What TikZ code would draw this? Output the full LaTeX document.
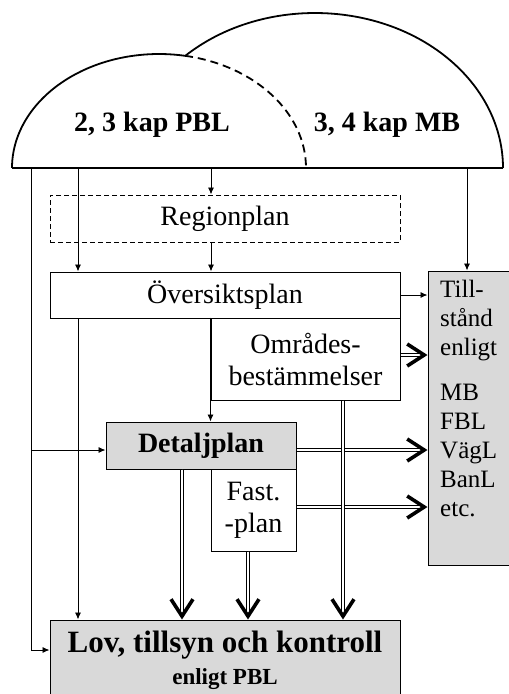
\documentclass[tikz,border=0pt]{standalone}
\usepackage{fontspec}
\setmainfont{Liberation Serif}
\usetikzlibrary{arrows.meta}
\definecolor{boxgray}{gray}{0.85}

\begin{document}
\begin{tikzpicture}[x=1pt, y=1pt,
    box/.style={draw, line width=1pt, inner sep=0pt, align=center,
      font=\fontsize{28}{32}\selectfont},
    graybox/.style={box, fill=boxgray},
    arr/.style={line width=0.9pt, -{Latex[length=7pt,width=6pt]}},
    dbl/.style={preaction={draw, -, double, double distance=2pt, line width=0.6pt,
        shorten >=8pt}, draw=white, line width=0.2pt,
      -{Straight Barb[length=17pt,width=22pt,line width=3.6pt,color=black]}}]
  \clip (0,0) rectangle (509,-694);

  % the two laws
  \draw[line width=1.8pt] (12,-168) arc[start angle=180, end angle=79.8,
    x radius=147, y radius=114];
  \draw[line width=1.8pt, dash pattern=on 8pt off 5pt] (159,-168) ++(79.8:147 and 114)
    arc[start angle=79.8, end angle=0, x radius=147, y radius=114];
  \draw[line width=1.8pt] (315,-168) ++(133.7:188 and 155)
    arc[start angle=133.7, end angle=0, x radius=188, y radius=155];
  \draw[line width=1.5pt] (12,-168) -- (503,-168);
  \node[font=\fontsize{28}{32}\selectfont\bfseries] (pbl) at (152,-125) {2, 3 kap PBL};
  \node[font=\fontsize{28}{32}\selectfont\bfseries] (mbtext) at (387,-125) {3, 4 kap MB};

  \coordinate (pbl1) at (31,-168);
  \coordinate (pbl2) at (78,-168);
  \coordinate (pbl3) at (211,-168);
  \coordinate (mb) at (467,-168);

  % plans
  \node[box, dash pattern=on 5pt off 3pt, minimum width=350, minimum height=47]
    (region) at (225,-218.5) {Regionplan};
  \node[box, minimum width=350, minimum height=46] (over) at (225,-295) {Översiktsplan};
  \node[box, minimum width=189, minimum height=82] (omr) at (305.5,-359)
    {Områdes-\\bestämmelser};
  \node[graybox, font=\fontsize{28}{32}\selectfont\bfseries, minimum width=190,
    minimum height=47] (detalj) at (201,-445.5) {Detaljplan};
  \node[box, minimum width=85, minimum height=82] (fast) at (253.5,-510) {Fast.\\-plan};
  \node[graybox, minimum width=350, minimum height=80] (lov) at (225,-660)
    {\fontsize{31}{34}\selectfont\bfseries Lov, tillsyn och kontroll\\
     \fontsize{23}{30}\selectfont\bfseries enligt PBL};
  \node[graybox, minimum width=95, minimum height=294] (till) at (475.5,-418) {};
  \node[anchor=north west, inner sep=0pt, align=left, font=\fontsize{25}{29}\selectfont]
    (tilltext) at (440,-280) {Till-\\stånd\\enligt\\[16pt]MB\\FBL\\VägL\\BanL\\etc.};

  % thin arrows
  \draw[arr] (pbl1) |- ([yshift=10]lov.west);
  \draw[arr] ([yshift=-4.5]pbl1 |- detalj.west) -- ([yshift=-4.5]detalj.west);
  \draw[arr] (pbl2) -- (pbl2 |- over.north);
  \draw[arr] (pbl2 |- over.south) -- (pbl2 |- lov.north);
  \draw[arr] (pbl3) -- (pbl3 |- region.north);
  \draw[arr] (pbl3 |- region.south) -- (pbl3 |- over.north);
  \draw[arr] (mb) -- (mb |- till.north);
  \draw[arr] (over.east) -- (over.east -| till.west);
  \draw[arr] (omr.north west) -- (omr.north west |- detalj.north);

  % double arrows
  \draw[dbl] ([yshift=4]omr.east) -- ([yshift=4]omr.east -| till.west);
  \draw[dbl] ([yshift=-4.5]detalj.east) -- ([yshift=-4.5]detalj.east -| till.west);
  \draw[dbl] ([yshift=3]fast.east) -- ([yshift=3]fast.east -| till.west);
  \draw[dbl] ([xshift=37.5]omr.south) -- ([xshift=37.5]omr.south |- lov.north);
  \draw[dbl] ([xshift=-19]detalj.south) -- ([xshift=-19]detalj.south |- lov.north);
  \draw[dbl] ([xshift=-5.5]fast.south) -- ([xshift=-5.5]fast.south |- lov.north);
\end{tikzpicture}
\end{document}
